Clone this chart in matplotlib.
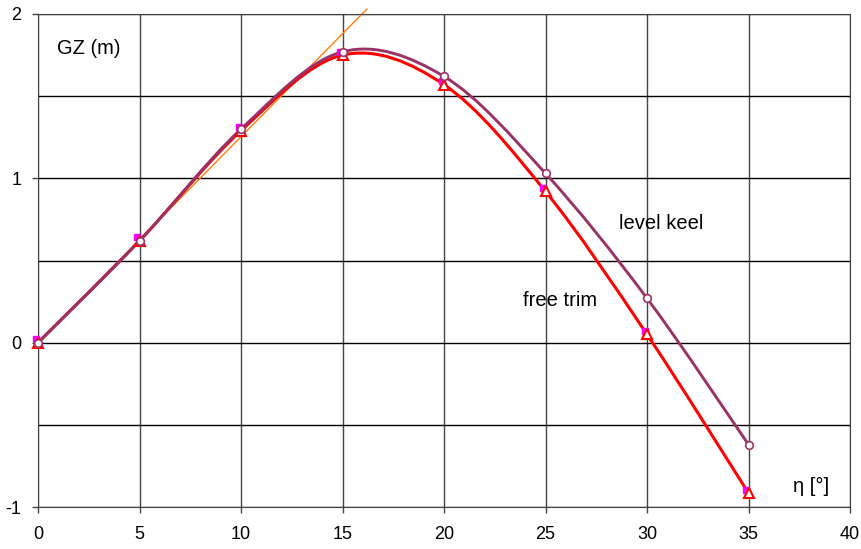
import matplotlib
matplotlib.use('Agg')
import matplotlib.pyplot as plt
import numpy as np
from matplotlib.path import Path
from matplotlib.patches import PathPatch

# heel angle (deg) and righting lever GZ (m)
heel = [0, 5, 10, 15, 20, 25, 30, 35]
gz_level_keel = [0.0, 0.62, 1.30, 1.77, 1.62, 1.03, 0.27, -0.62]
gz_free_trim = [0.0, 0.62, 1.29, 1.75, 1.57, 0.92, 0.05, -0.915]

# initial slope (tangent at origin)
tangent_x = [0, 16.2]
tangent_y = [0, 2.03]

x_ticks = [0, 5, 10, 15, 20, 25, 30, 35, 40]
y_ticks = [-1, 0, 1, 2]
y_minor = [-0.5, 0.5, 1.5]


def smooth_path(xs, ys):
    # excel-like smoothed line: cubic bezier segments through each point
    p = np.column_stack([xs, ys]).astype(float)
    n = len(p)
    verts = [p[0]]
    codes = [Path.MOVETO]
    for i in range(n - 1):
        p_prev = p[i - 1] if i > 0 else p[i]
        p_next2 = p[i + 2] if i + 2 < n else p[i + 1]
        c1 = p[i] + (p[i + 1] - p_prev) / 6.0
        c2 = p[i + 1] - (p_next2 - p[i]) / 6.0
        verts += [c1, c2, p[i + 1]]
        codes += [Path.CURVE4] * 3
    return Path(verts, codes)


plt.rcParams['font.family'] = ['Liberation Sans', 'DejaVu Sans']

fig = plt.figure(figsize=(8.62, 5.49), dpi=100)
ax = fig.add_axes([0.0441, 0.0765, 0.942, 0.898])

ax.set_xlim(0, 40)
ax.set_ylim(-1, 2)

# grid
for xv in x_ticks:
    ax.axvline(xv, color='#444444', lw=1.0, zorder=1)
for yv in y_ticks + y_minor:
    ax.axhline(yv, color='black', lw=1.0, zorder=1)

ax.plot(tangent_x, tangent_y, color='#ff7f0e', lw=1.0, zorder=2, clip_on=False)

ax.add_patch(PathPatch(smooth_path(heel, gz_free_trim), fill=False,
                       edgecolor='#ff0000', lw=2.2, zorder=3))
ax.add_patch(PathPatch(smooth_path(heel, gz_level_keel), fill=False,
                       edgecolor='#993366', lw=2.1, zorder=4))

# hidden series markers (magenta squares behind the triangles)
ax.plot(np.array(heel) - 0.12, np.array(gz_free_trim) + 0.02, ls='none',
        marker='s', ms=5, mfc='#ff00ff', mec='#ff00ff', zorder=4.5,
        clip_on=False)
ax.plot(heel, gz_free_trim, ls='none', marker='^', ms=6.5, mfc='white',
        mec='#ff0000', mew=1.5, zorder=5, clip_on=False)
ax.plot(heel, gz_level_keel, ls='none', marker='o', ms=5.5, mfc='white',
        mec='#993366', mew=1.2, zorder=6, clip_on=False)

ax.text(0.94, 1.79, 'GZ (m)', fontsize=14.5, va='center', ha='left')
ax.text(28.6, 0.725, 'level keel', fontsize=14.5, va='center', ha='left')
ax.text(23.9, 0.256, 'free trim', fontsize=14.5, va='center', ha='left')
ax.text(37.2, -0.878, 'η [°]', fontsize=14.5, va='center', ha='left')

ax.set_xticks(x_ticks)
ax.set_yticks(y_ticks)
ax.set_yticklabels(['-1', '0', '1', '2'])
ax.tick_params(axis='both', direction='out', length=4, width=1,
               color='#444444', labelsize=13)
ax.tick_params(axis='x', pad=9.5)
ax.tick_params(axis='y', pad=8)

for side in ['left', 'bottom', 'top', 'right']:
    ax.spines[side].set_color('#444444')

fig.savefig('out.png', dpi=100)
